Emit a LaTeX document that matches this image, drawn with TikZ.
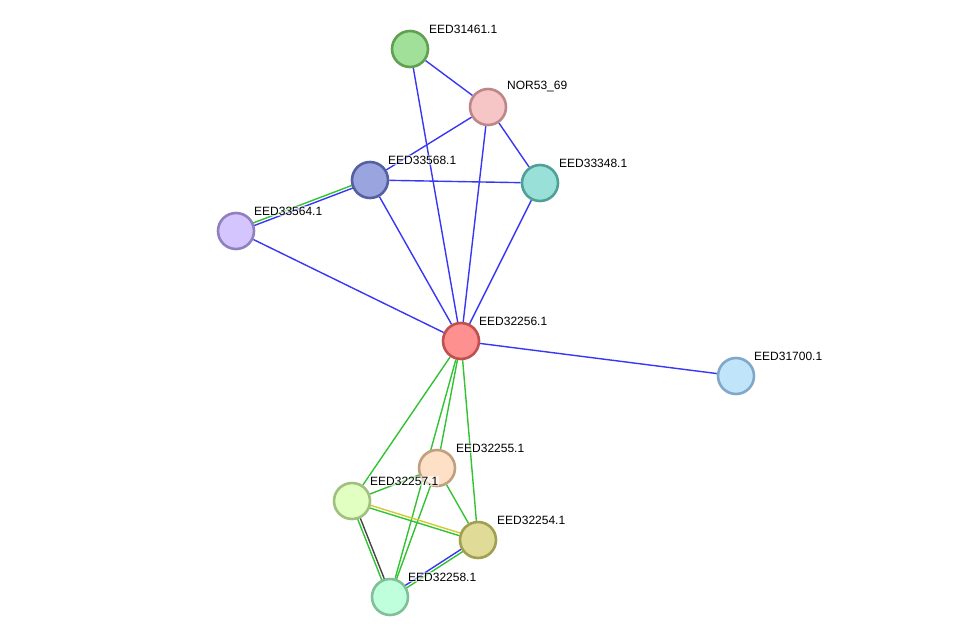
\documentclass[tikz,border=0pt]{standalone}
\usepackage{fontspec}
\setmainfont{Liberation Sans}
\usetikzlibrary{calc,backgrounds}
\definecolor{EdgeBlue}{RGB}{55,55,245}
\definecolor{EdgeGreen}{RGB}{50,195,50}
\definecolor{EdgeYellow}{RGB}{205,205,50}
\definecolor{EdgeGray}{RGB}{70,70,70}
\tikzset{prot/.style={circle,minimum size=36pt,inner sep=0pt,line width=2.6pt},
  lbl/.style={anchor=west,font=\fontsize{12}{14}\selectfont,inner sep=1pt,fill=white,fill opacity=0.6,text opacity=1},
  blu/.style={EdgeBlue,line width=1.4pt},grn/.style={EdgeGreen,line width=1.4pt},
  yel/.style={EdgeYellow,line width=1.4pt},gry/.style={EdgeGray,line width=1.4pt}}
% two coloured lines side by side
\newcommand{\twin}[4]{\draw[#3] ($(#1)!1.4pt!90:(#2)$)--($(#2)!1.4pt!-90:(#1)$);\draw[#4] ($(#1)!1.4pt!-90:(#2)$)--($(#2)!1.4pt!90:(#1)$);}
\begin{document}
\begin{tikzpicture}[x=1pt,y=-1pt]
\useasboundingbox (0,0) rectangle (976,642);
\node[prot,fill={rgb,255:red,160;green,224;blue,152},draw={rgb,255:red,96;green,160;blue,80}] (a31461) at (410,49) {};
\node[prot,fill={rgb,255:red,246;green,198;blue,198},draw={rgb,255:red,190;green,135;blue,135}] (nor) at (488,107) {};
\node[prot,fill={rgb,255:red,154;green,165;blue,224},draw={rgb,255:red,85;green,96;blue,160}] (a33568) at (370,180) {};
\node[prot,fill={rgb,255:red,152;green,224;blue,216},draw={rgb,255:red,80;green,160;blue,152}] (a33348) at (540,183) {};
\node[prot,fill={rgb,255:red,213;green,197;blue,255},draw={rgb,255:red,144;green,128;blue,192}] (a33564) at (236,231) {};
\node[prot,fill={rgb,255:red,255;green,144;blue,144},draw={rgb,255:red,192;green,80;blue,80}] (a32256) at (461,341) {};
\node[prot,fill={rgb,255:red,192;green,229;blue,250},draw={rgb,255:red,128;green,168;blue,200}] (a31700) at (736,376) {};
\node[prot,fill={rgb,255:red,253;green,224;blue,197},draw={rgb,255:red,192;green,160;blue,128}] (a32255) at (437,468) {};
\node[prot,fill={rgb,255:red,224;green,255;blue,192},draw={rgb,255:red,160;green,192;blue,128}] (a32257) at (352,501) {};
\node[prot,fill={rgb,255:red,224;green,220;blue,152},draw={rgb,255:red,160;green,160;blue,80}] (a32254) at (478,540) {};
\node[prot,fill={rgb,255:red,192;green,255;blue,220},draw={rgb,255:red,128;green,192;blue,152}] (a32258) at (390,597) {};
% labels
\node[lbl] at ($(a31461)+(18,-20)$) {EED31461.1};\node[lbl] at ($(nor)+(18,-20)$) {NOR53\_69};
\node[lbl] at ($(a33568)+(17,-20)$) {EED33568.1};\node[lbl] at ($(a33348)+(18,-20)$) {EED33348.1};
\node[lbl] at ($(a33564)+(17,-20)$) {EED33564.1};\node[lbl] at ($(a32256)+(17,-20)$) {EED32256.1};
\node[lbl] at ($(a31700)+(17,-20)$) {EED31700.1};\node[lbl] at ($(a32255)+(18,-20)$) {EED32255.1};
\node[lbl] at ($(a32257)+(17,-20)$) {EED32257.1};\node[lbl] at ($(a32254)+(18,-20)$) {EED32254.1};
\node[lbl] at ($(a32258)+(17,-20)$) {EED32258.1};
\begin{scope}[on background layer]
\draw[blu] (a31461)--(nor);\draw[blu] (a31461)--(a32256);
\draw[blu] (nor)--(a33568);\draw[blu] (nor)--(a33348);\draw[blu] (nor)--(a32256);
\draw[blu] (a33568)--(a33348);\draw[blu] (a33568)--(a32256);\draw[blu] (a33348)--(a32256);
\twin{a33564}{a33568}{grn}{blu}
\draw[blu] (a33564)--(a32256);\draw[blu] (a32256)--(a31700);
\draw[grn] (a32256)--(a32257);\draw[grn] (a32256)--(a32258);\draw[grn] (a32256)--(a32255);\draw[grn] (a32256)--(a32254);
\draw[grn] (a32255)--(a32258);\draw[grn] (a32255)--(a32254);\draw[grn] (a32255)--(a32257);
\twin{a32257}{a32254}{yel}{grn}
\twin{a32257}{a32258}{gry}{grn}
\twin{a32258}{a32254}{blu}{grn}
\end{scope}
\end{tikzpicture}
\end{document}
